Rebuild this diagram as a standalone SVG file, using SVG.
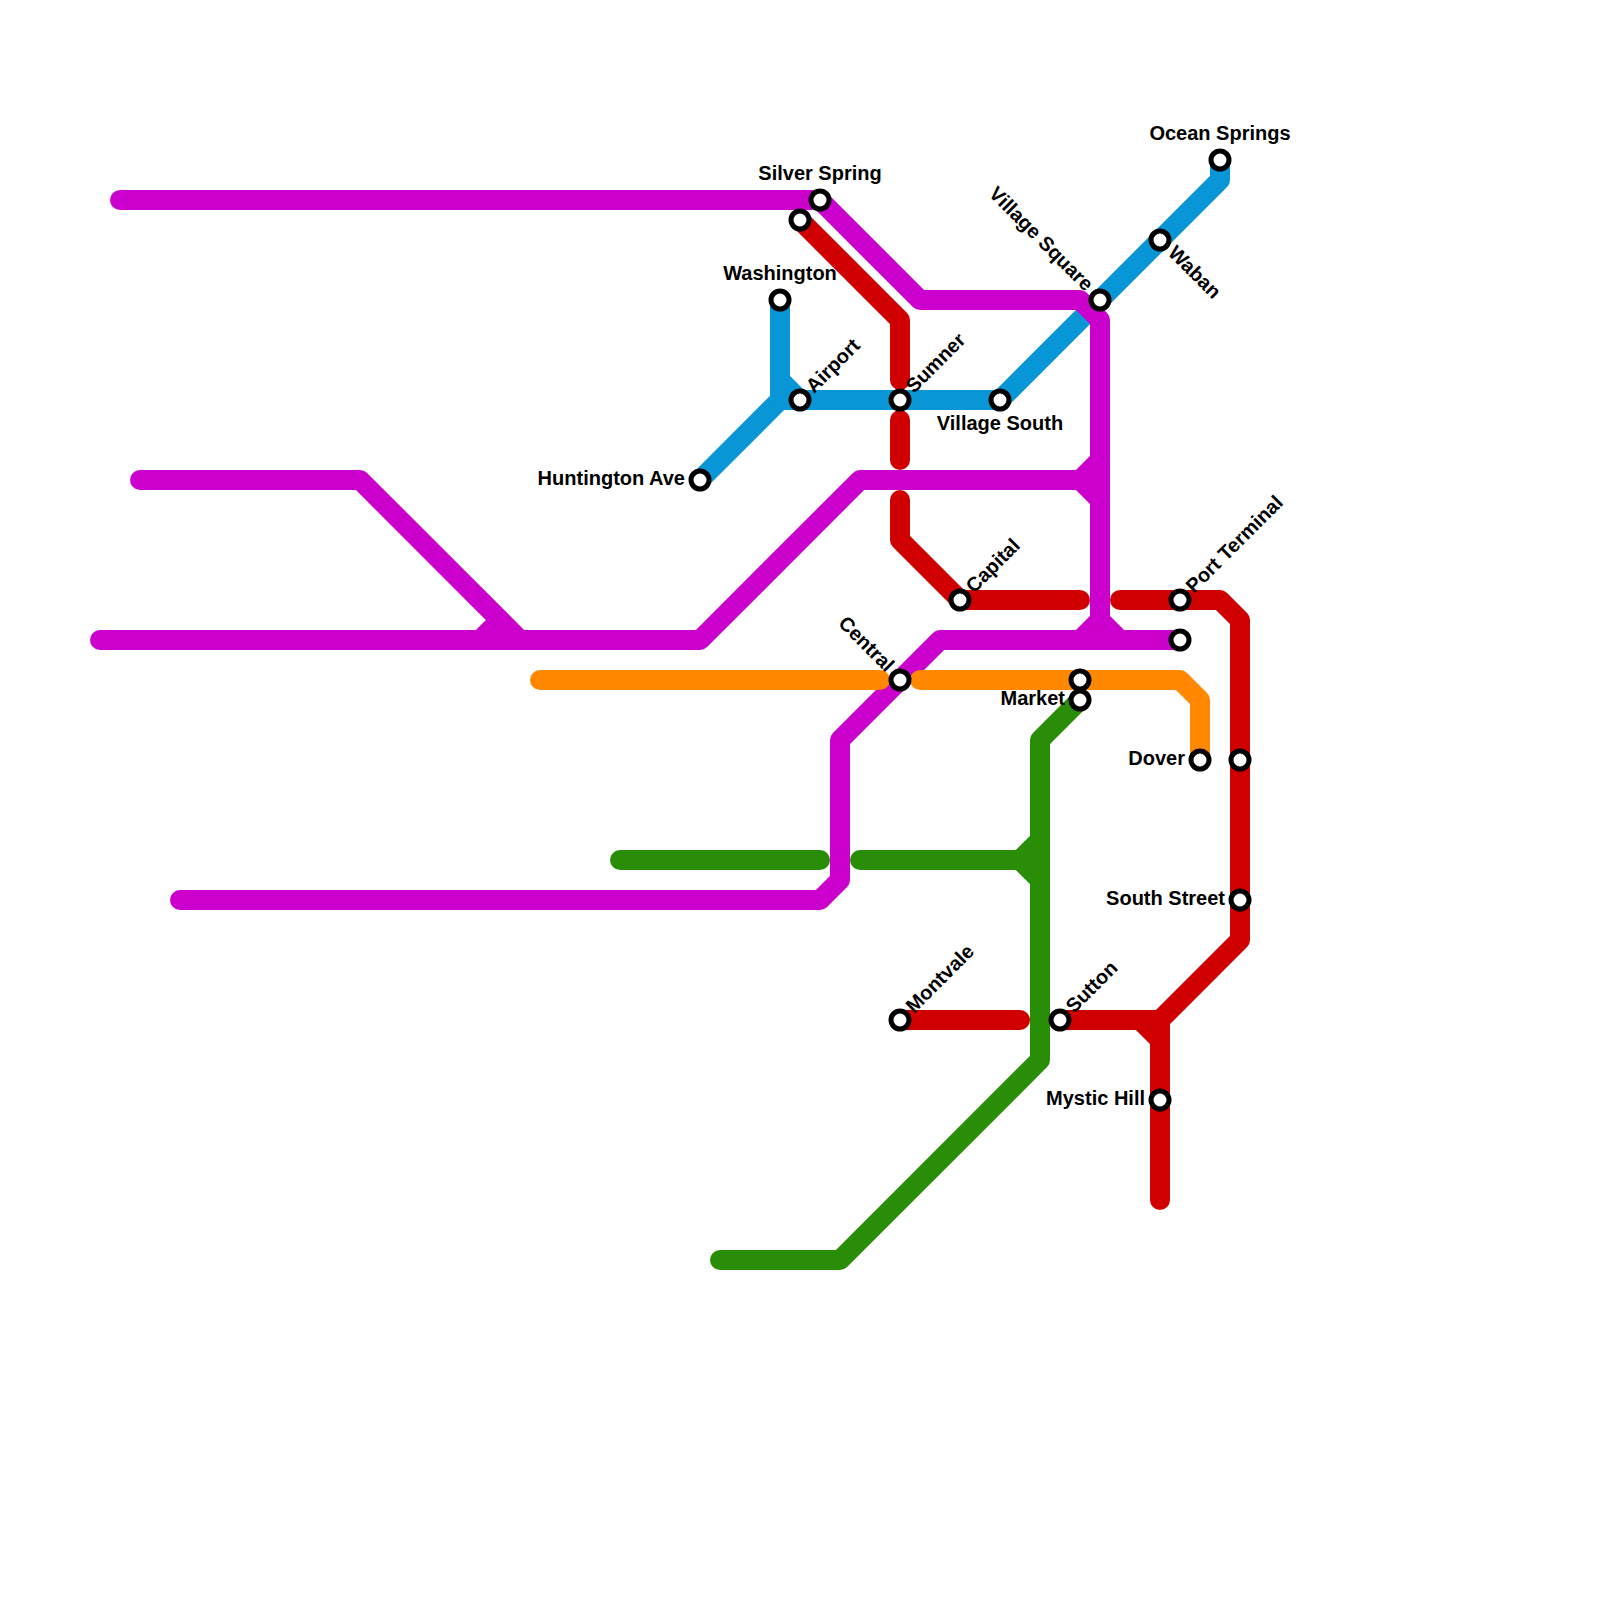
<svg xmlns="http://www.w3.org/2000/svg" width="1600" height="1600" viewBox="0 0 1600 1600">
<style>
.l{fill:none;stroke-width:20;stroke-linecap:round;stroke-linejoin:round}
.b{stroke:#0896d7}.p{stroke:#cc00cc}.r{stroke:#d00000}.o{stroke:#ff8800}.g{stroke:#2a8d08}
.s{fill:#fff;stroke:#000;stroke-width:5}
text{font-family:"Liberation Sans",Arial,sans-serif;font-weight:700;font-size:20px;fill:#000}
.e{text-anchor:end}.m{text-anchor:middle}
</style>
<rect width="1600" height="1600" fill="#fff"/>
<g id="connectors">
<path class="l b" d="M700 480L780 400H1000L1220 180V160"/>
<path class="l b" d="M780 300V400M780 380L800 400"/>
<path class="l g" d="M620 860H820"/>
<path class="l g" d="M860 860H1020L1040 880M1020 860L1040 840"/>
<path class="l g" d="M1080 700L1040 740V1060L840 1260H720"/>
<path class="l p" d="M120 200H820L920 300H1080L1100 320V620L1120 640M1100 620L1080 640M1080 480L1100 460M1080 480L1100 500"/>
<path class="l p" d="M140 480H360L520 640M480 640L500 620"/>
<path class="l p" d="M100 640H700L860 480H1080"/>
<path class="l p" d="M180 900H820L840 880V740L940 640H1180"/>
<path class="l r" d="M800 220L900 320V380"/>
<path class="l r" d="M900 420V460"/>
<path class="l r" d="M900 500V540L960 600H1080"/>
<path class="l r" d="M1120 600H1220L1240 620V940L1160 1020H1060"/>
<path class="l r" d="M1140 1020L1160 1040M1160 1020V1200"/>
<path class="l r" d="M900 1020H1020"/>
<path class="l o" d="M540 680H880"/>
<path class="l o" d="M920 680H1180L1200 700V760"/>
</g>
<g id="ocean-springs"><circle class="s" cx="1220" cy="160" r="9"/><text class="m" x="1220" y="140">Ocean Springs</text></g>
<g id="waban"><circle class="s" cx="1160" cy="240" r="9"/><text transform="translate(1167 254) rotate(45)">Waban</text></g>
<g id="village-square"><circle class="s" cx="1100" cy="300" r="9"/><text class="e" transform="translate(1085 292) rotate(45)">Village Square</text></g>
<g id="village-south"><circle class="s" cx="1000" cy="400" r="9"/><text class="m" x="1000" y="430">Village South</text></g>
<g id="sumner"><circle class="s" cx="900" cy="400" r="9"/><text transform="translate(914 394) rotate(-45)">Sumner</text></g>
<g id="airport"><circle class="s" cx="800" cy="400" r="9"/><text transform="translate(814 394) rotate(-45)">Airport</text></g>
<g id="washington"><circle class="s" cx="780" cy="300" r="9"/><text class="m" x="780" y="280">Washington</text></g>
<g id="huntington-ave"><circle class="s" cx="700" cy="480" r="9"/><text class="e" x="685" y="485">Huntington Ave</text></g>
<g id="silver-spring"><circle class="s" cx="820" cy="200" r="9"/><text class="m" x="820" y="180">Silver Spring</text></g>
<g id="red-terminal"><circle class="s" cx="800" cy="220" r="9"/></g>
<g id="capital"><circle class="s" cx="960" cy="600" r="9"/><text transform="translate(974 594) rotate(-45)">Capital</text></g>
<g id="port-terminal"><circle class="s" cx="1180" cy="600" r="9"/><text transform="translate(1194 594) rotate(-45)">Port Terminal</text></g>
<g id="purple-terminal"><circle class="s" cx="1180" cy="640" r="9"/></g>
<g id="central"><circle class="s" cx="900" cy="680" r="9"/><text class="e" transform="translate(886 673) rotate(45)">Central</text></g>
<g id="orange-stop"><circle class="s" cx="1080" cy="680" r="9"/></g>
<g id="market"><circle class="s" cx="1080" cy="700" r="9"/><text class="e" x="1065" y="705">Market</text></g>
<g id="dover"><circle class="s" cx="1200" cy="760" r="9"/><text class="e" x="1185" y="765">Dover</text></g>
<g id="red-stop"><circle class="s" cx="1240" cy="760" r="9"/></g>
<g id="south-street"><circle class="s" cx="1240" cy="900" r="9"/><text class="e" x="1225" y="905">South Street</text></g>
<g id="montvale"><circle class="s" cx="900" cy="1020" r="9"/><text transform="translate(914 1014) rotate(-45)">Montvale</text></g>
<g id="sutton"><circle class="s" cx="1060" cy="1020" r="9"/><text transform="translate(1074 1014) rotate(-45)">Sutton</text></g>
<g id="mystic-hill"><circle class="s" cx="1160" cy="1100" r="9"/><text class="e" x="1145" y="1105">Mystic Hill</text></g>
</svg>
